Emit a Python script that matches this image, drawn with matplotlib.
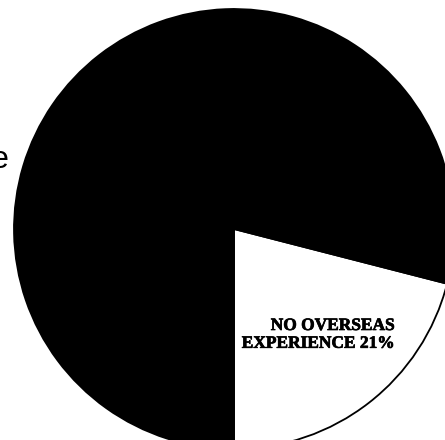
import matplotlib
matplotlib.use("Agg")
import matplotlib.pyplot as plt
import matplotlib.patheffects as pe

# Data
categories = ["NO OVERSEAS\nEXPERIENCE", "Overseas experience"]
values = [21, 79]
colors = ["white", "black"]

W, H = 445, 440
fig = plt.figure(figsize=(W / 100, H / 100), dpi=100)
ax = fig.add_axes([0, 0, 1, 1])

cx, cy, r = 234, 440 - 229, 220
wedges, _ = ax.pie(values, colors=colors, startangle=-90, counterclock=True,
                   center=(cx, cy), radius=r, frame=True,
                   wedgeprops=dict(edgecolor="black", linewidth=1.3))
ax.set_xlim(0, W)
ax.set_ylim(0, H)
ax.set_aspect("equal")
ax.axis("off")

line1, line2 = categories[0].split("\n")
ax.text(395, 440 - 318, f"{line1}\n{line2} {values[0]}%",
        ha="right", va="top", multialignment="right",
        fontfamily="Liberation Serif", fontweight="bold", fontsize=12.5,
        linespacing=1.15, color="black",
        path_effects=[pe.withStroke(linewidth=0.5, foreground="black")])

ax.text(9, 440 - 168, categories[1], ha="right", va="baseline",
        fontfamily="Liberation Sans", fontsize=23, color="black")

fig.savefig("out.png", dpi=100)
